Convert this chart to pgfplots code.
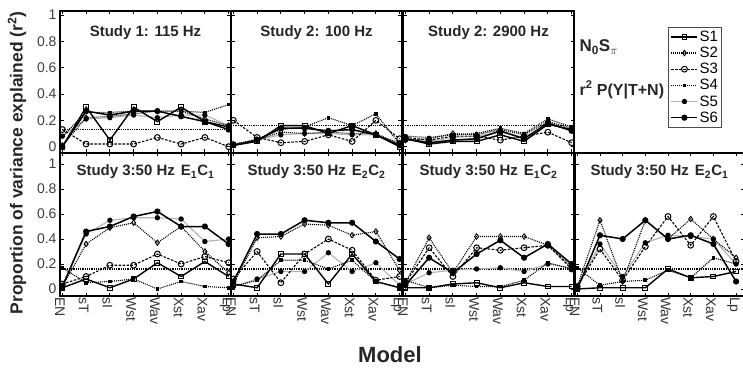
\documentclass[border=0pt]{standalone}
\usepackage{pgfplots}
\pgfplotsset{compat=1.18}
\usepackage{pgfplotstable}
\usepackage{fontspec}
\setmainfont{Liberation Sans}

\pgfplotstableread{
x  s1   s2   s3   s4   s5   s6
1  0.00 0.01 0.13 0.08 0.08 0.00
2  0.30 0.22 0.02 0.26 0.21 0.27
3  0.05 0.23 0.02 0.26 0.22 0.24
4  0.30 0.25 0.02 0.27 0.24 0.27
5  0.19 0.27 0.07 0.27 0.22 0.27
6  0.30 0.27 0.02 0.27 0.24 0.23
7  0.19 0.21 0.07 0.26 0.24 0.19
8  0.15 0.16 0.00 0.32 0.16 0.13
}\tTa
\pgfplotstableread{
x  s1   s2   s3   s4   s5   s6
1  0.01 0.02 0.20 0.01 0.02 0.01
2  0.04 0.05 0.07 0.06 0.05 0.05
3  0.16 0.11 0.03 0.13 0.09 0.14
4  0.16 0.10 0.04 0.15 0.10 0.14
5  0.10 0.11 0.09 0.22 0.10 0.12
6  0.16 0.10 0.04 0.16 0.09 0.13
7  0.09 0.10 0.20 0.25 0.09 0.09
8  0.00 0.02 0.06 0.02 0.03 0.01
}\tTb
\pgfplotstableread{
x  s1   s2   s3   s4   s5   s6
1  0.06 0.05 0.07 0.08 0.05 0.06
2  0.02 0.06 0.05 0.07 0.04 0.03
3  0.04 0.10 0.08 0.09 0.07 0.05
4  0.04 0.09 0.08 0.10 0.08 0.06
5  0.09 0.13 0.05 0.14 0.11 0.12
6  0.04 0.09 0.08 0.10 0.07 0.06
7  0.17 0.19 0.11 0.21 0.17 0.18
8  0.13 0.14 0.03 0.15 0.13 0.12
}\tTc
\pgfplotstableread{
x  s1   s2   s3   s4   s5   s6
1  0.01 0.02 0.04 0.17 0.03 0.02
2  0.08 0.36 0.10 0.05 0.44 0.46
3  0.01 0.49 0.19 0.06 0.55 0.50
4  0.08 0.53 0.19 0.08 0.57 0.58
5  0.21 0.37 0.28 0.00 0.57 0.62
6  0.10 0.50 0.20 0.06 0.56 0.50
7  0.22 0.30 0.26 0.02 0.38 0.50
8  0.10 0.13 0.21 0.01 0.40 0.36
}\tBa
\pgfplotstableread{
x  s1   s2   s3   s4   s5   s6
1  0.04 0.04 0.08 0.02 0.02 0.06
2  0.01 0.41 0.30 0.07 0.08 0.44
3  0.28 0.42 0.05 0.23 0.14 0.44
4  0.28 0.52 0.28 0.23 0.14 0.55
5  0.04 0.51 0.40 0.16 0.29 0.53
6  0.28 0.43 0.31 0.23 0.14 0.53
7  0.06 0.46 0.07 0.06 0.21 0.38
8  0.01 0.15 0.10 0.01 0.03 0.24
}\tBb
\pgfplotstableread{
x  s1   s2   s3   s4   s5   s6
1  0.01 0.05 0.05 0.07 0.04 0.03
2  0.01 0.41 0.33 0.01 0.13 0.25
3  0.04 0.13 0.10 0.03 0.15 0.13
4  0.05 0.42 0.33 0.02 0.16 0.28
5  0.01 0.42 0.31 0.02 0.17 0.39
6  0.05 0.42 0.33 0.07 0.14 0.25
7  0.02 0.35 0.35 0.21 0.20 0.36
8  0.02 0.18 0.16 0.16 0.17 0.20
}\tBc
\pgfplotstableread{
x  s1   s2   s3   s4   s5   s6
1  0.00 0.02 0.02 0.17 0.01 0.00
2  0.01 0.55 0.32 0.03 0.36 0.43
3  0.01 0.06 0.07 0.06 0.10 0.40
4  0.01 0.55 0.34 0.07 0.37 0.55
5  0.16 0.40 0.58 0.15 0.43 0.40
6  0.09 0.56 0.35 0.09 0.42 0.43
7  0.10 0.40 0.58 0.25 0.40 0.36
8  0.14 0.25 0.22 0.20 0.20 0.06
}\tBd

\tikzset{ttl/.style={font=\bfseries\fontsize{15}{15}\selectfont, text=black!85}}
\pgfplotsset{
  panel/.style={scale only axis, width=171pt, xmin=0.9, xmax=8.1,
    xtick={1,2,3,4,5,6,7,8}, ytick={0,0.2,0.4,0.6,0.8,1},
    xticklabels={}, yticklabels={}, tick align=inside, tick pos=both,
    major tick length=3.5pt, tick style={black, line width=0.8pt},
    axis line style={black, line width=1.2pt},
    yticklabel style={font=\fontsize{14}{14}\selectfont, text=black!75},
    xticklabel style={font=\fontsize{14}{14}\selectfont, text=black!80},
    /pgf/number format/assume math mode=true},
  toprow/.style={height=142pt, ymin=-0.048, ymax=1.03},
  botrow/.style={height=143pt, ymin=-0.056, ymax=1.088,
    xticklabels={EN,sT,sI,Wst,Wav,Xst,Xav,Lp},
    xticklabel style={rotate=-90, anchor=west, inner sep=1.5pt, xshift=-0.5pt, yshift=-2.5pt}},
  s1/.style={black, line width=1.4pt, mark=square, mark size=2.4pt, mark options={solid, line width=1pt}},
  s2/.style={black, line width=1.1pt, dash pattern=on 1pt off 1pt, mark=diamond, mark size=2.7pt, mark options={solid, line width=0.9pt}},
  s3/.style={black, line width=1.1pt, dash pattern=on 2.5pt off 1.5pt, mark=o, mark size=2.9pt, mark options={solid, line width=1pt}},
  s4/.style={black, line width=1.1pt, dash pattern=on 1pt off 1pt, mark=square*, mark size=1.3pt, mark options={solid}},
  s5/.style={black!30, line width=1.1pt, mark=*, mark size=2.1pt, mark options={solid, black}},
  s6/.style={black, line width=1.5pt, mark=*, mark size=2.3pt, mark options={solid, black}},
  refl/.style={black, line width=1.7pt, dash pattern=on 1pt off 0.8pt, forget plot},
}
\newcommand{\allseries}[2]{%
  \addplot[refl] coordinates {(0.9,#2) (8.4,#2)};
  \addplot[s5, forget plot] table[x=x, y=s5] {#1};
  \addplot[s4, forget plot] table[x=x, y=s4] {#1};
  \addplot[s3, forget plot] table[x=x, y=s3] {#1};
  \addplot[s2, forget plot] table[x=x, y=s2] {#1};
  \addplot[s1, forget plot] table[x=x, y=s1] {#1};
  \addplot[s6, forget plot] table[x=x, y=s6] {#1};
}

\begin{document}
\begin{tikzpicture}
\useasboundingbox (0,0) rectangle (743pt,367pt);

% top row
\begin{axis}[panel, toprow, at={(60pt,214pt)}, anchor=south west,
  yticklabels={0,0.2,0.4,0.6,0.8,1}]
\allseries{\tTa}{0.13}
\node[ttl] at (rel axis cs:0.5,0.845) {Study 1: 115 Hz};
\end{axis}
\begin{axis}[panel, toprow, at={(231pt,214pt)}, anchor=south west]
\allseries{\tTb}{0.16}
\node[ttl] at (rel axis cs:0.5,0.845) {Study 2: 100 Hz};
\end{axis}
\begin{axis}[panel, toprow, at={(403pt,214pt)}, anchor=south west,
  legend style={at={(1.552,0.887)}, anchor=north west, draw=black!70, line width=0.6pt,
    font=\fontsize{15}{15}\selectfont, row sep=1.2pt, cells={anchor=west},
    inner sep=2pt, nodes={inner sep=1.5pt}},
  legend image code/.code={\draw[mark repeat=2,mark phase=2,#1] plot coordinates {(0pt,0pt) (13pt,0pt) (26pt,0pt)};}]
\addlegendimage{s1}\addlegendentry{S1}
\addlegendimage{s2}\addlegendentry{S2}
\addlegendimage{s3}\addlegendentry{S3}
\addlegendimage{s4}\addlegendentry{S4}
\addlegendimage{s5}\addlegendentry{S5}
\addlegendimage{s6}\addlegendentry{S6}
\allseries{\tTc}{0.16}
\node[ttl] at (rel axis cs:0.5,0.845) {Study 2: 2900 Hz};
\end{axis}

% bottom row
\begin{axis}[panel, botrow, at={(60pt,71pt)}, anchor=south west,
  yticklabels={0,0.2,0.4,0.6,0.8,1}]
\allseries{\tBa}{0.16}
\node[ttl] at (rel axis cs:0.5,0.867) {Study 3:50 Hz\hspace{6pt}E\textsubscript{1}C\textsubscript{1}};
\end{axis}
\begin{axis}[panel, botrow, at={(231pt,71pt)}, anchor=south west]
\allseries{\tBb}{0.16}
\node[ttl] at (rel axis cs:0.5,0.867) {Study 3:50 Hz\hspace{6pt}E\textsubscript{2}C\textsubscript{2}};
\end{axis}
\begin{axis}[panel, botrow, at={(403pt,71pt)}, anchor=south west]
\allseries{\tBc}{0.16}
\node[ttl] at (rel axis cs:0.5,0.867) {Study 3:50 Hz\hspace{6pt}E\textsubscript{1}C\textsubscript{2}};
\end{axis}
\begin{axis}[panel, botrow, at={(575pt,71pt)}, anchor=south west, width=169pt, xmax=8.35]
\allseries{\tBd}{0.16}
\node[ttl] at (rel axis cs:0.5,0.867) {Study 3:50 Hz\hspace{6pt}E\textsubscript{2}C\textsubscript{1}};
\end{axis}

% annotations
\node[font=\bfseries\fontsize{17}{17}\selectfont, text=black!85, anchor=west] at (576pt,320pt) {N\textsubscript{0}S\textsubscript{$\pi$}};
\node[font=\bfseries\fontsize{16}{16}\selectfont, text=black!85, anchor=west] at (576pt,277pt) {r\textsuperscript{2} P(Y|T+N)};
\node[rotate=90, font=\bfseries\fontsize{17.5}{17.5}\selectfont, text=black!85] at (17pt,204pt) {Proportion of variance explained (r\textsuperscript{2})};
\node[font=\bfseries\fontsize{22}{22}\selectfont, text=black!85] at (390pt,12pt) {Model};
\end{tikzpicture}
\end{document}
